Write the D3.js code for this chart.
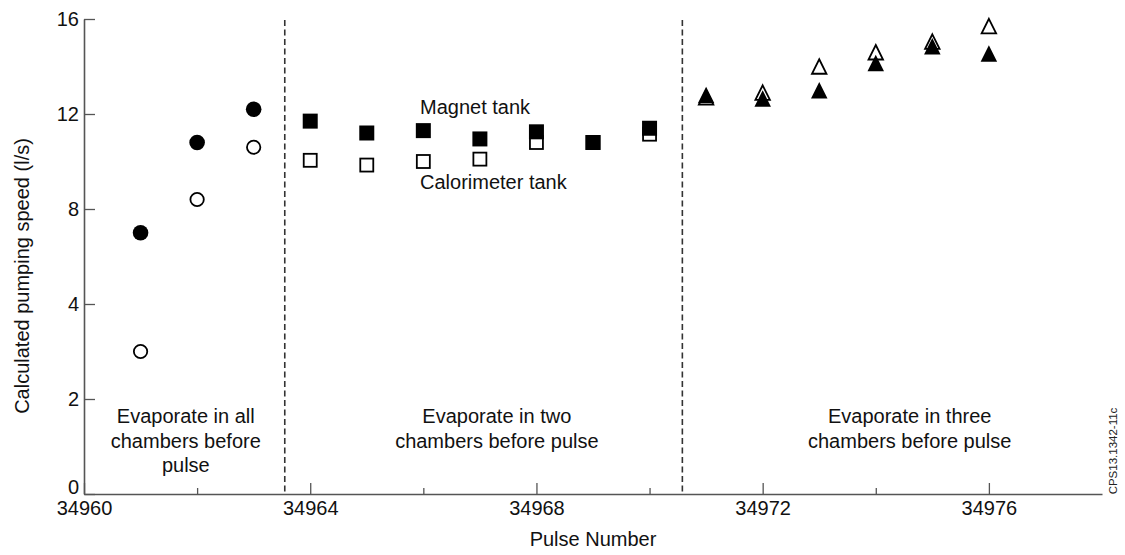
<!DOCTYPE html>
<html><head><meta charset="utf-8">
<script src="https://cdn.jsdelivr.net/npm/d3@7"></script>
<style>
html,body{margin:0;padding:0;background:#fff;}
text{font-family:"Liberation Sans",Arial,Helvetica,sans-serif;}
</style></head>
<body>
<svg id="chart" width="1125" height="555"></svg>
<script>
// ---- data ----
const pulsesAll = [34961, 34962, 34963];
const magnetAll = [7.0, 10.8, 12.2];
const calorAll = [3.0, 8.4, 10.6];

const pulsesTwo = [34964, 34965, 34966, 34967, 34968, 34969, 34970];
const magnetTwo = [11.7, 11.2, 11.3, 10.95, 11.25, 10.8, 11.4];
const calorTwo = [10.05, 9.85, 10.0, 10.1, 10.8, 10.8, 11.15];

const pulsesThree = [34971, 34972, 34973, 34974, 34975, 34976];
const magnetThree = [12.8, 12.65, 13.0, 14.15, 14.85, 14.55];
const calorThree = [12.7, 12.9, 14.0, 14.6, 15.05, 15.7];

const yTickValues = [0, 2, 4, 8, 12, 16];
const xMajorTicks = [34960, 34964, 34968, 34972, 34976];
const xMinorTicks = [34962, 34966, 34970, 34974];
const dividers = [34963.55, 34970.58];

const regionLabels = [
  {x: 34961.8, lines: ["Evaporate in all", "chambers before", "pulse"]},
  {x: 34967.3, lines: ["Evaporate in two", "chambers before pulse"]},
  {x: 34974.6, lines: ["Evaporate in three", "chambers before pulse"]}
];

// ---- layout ----
const svg = d3.select("#chart");
const x = d3.scaleLinear().domain([34960, 34978]).range([84, 1102]);
const y = d3.scaleLinear().domain(yTickValues).range([494, 399, 304, 209, 114, 19]);
const axisColor = "#555";

// y axis
const gy = svg.append("g").attr("transform", `translate(${x.range()[0]},0)`)
  .call(d3.axisLeft(y).tickValues(yTickValues).tickSizeInner(-11).tickSizeOuter(0).tickPadding(6).tickFormat(d3.format("d")));
gy.select(".domain").attr("stroke", axisColor).attr("stroke-width", 1.6);
gy.selectAll(".tick line").attr("stroke", axisColor).attr("stroke-width", 1.3);
gy.selectAll(".tick text").attr("font-size", 20).attr("fill", "#111").attr("x", -5);
gy.selectAll(".tick text").filter(d => d === 0).attr("dy", "-0.05em");

// x axis
const gxMinor = svg.append("g").attr("transform", `translate(0,${y(0)})`)
  .call(d3.axisBottom(x).tickValues(xMinorTicks).tickSizeInner(-6).tickSizeOuter(0).tickFormat(""));
gxMinor.select(".domain").attr("stroke", axisColor).attr("stroke-width", 1.6);
gxMinor.selectAll(".tick line").attr("stroke", axisColor).attr("stroke-width", 1.3);

const gx = svg.append("g").attr("transform", `translate(0,${y(0)})`)
  .call(d3.axisBottom(x).tickValues(xMajorTicks).tickSizeInner(-11).tickSizeOuter(0).tickPadding(6).tickFormat(d3.format("d")));
gx.select(".domain").attr("stroke", "none");
gx.selectAll(".tick line").attr("stroke", axisColor).attr("stroke-width", 1.3);
gx.selectAll(".tick text").attr("font-size", 20).attr("fill", "#111").attr("dy", "0.74em");

// axis titles
svg.append("text").attr("x", 593).attr("y", 546).attr("text-anchor", "middle")
  .attr("font-size", 20).attr("fill", "#111").text("Pulse Number");
svg.append("text").attr("transform", "translate(29,276) rotate(-90)").attr("text-anchor", "middle")
  .attr("font-size", 20).attr("fill", "#111").text("Calculated pumping speed (l/s)");

// code label
svg.append("text").attr("transform", "translate(1117,451) rotate(-90)").attr("text-anchor", "middle")
  .attr("font-size", 11.5).attr("fill", "#222").text("CPS13.1342-11c");

// dividers
svg.selectAll("line.div").data(dividers).join("line").attr("class", "div")
  .attr("x1", d => x(d)).attr("x2", d => x(d)).attr("y1", y(16) + 1).attr("y2", y(0))
  .attr("stroke", "#333").attr("stroke-width", 1.6).attr("stroke-dasharray", "6,3.5");

// region labels
regionLabels.forEach(r => {
  const t = svg.append("text").attr("text-anchor", "middle").attr("font-size", 20).attr("fill", "#111");
  r.lines.forEach((l, i) => t.append("tspan").attr("x", x(r.x)).attr("y", 423 + i * 24.5).text(l));
});

// series labels
svg.append("text").attr("x", 420).attr("y", 114).attr("font-size", 20).attr("fill", "#111").text("Magnet tank");
svg.append("text").attr("x", 420).attr("y", 189).attr("font-size", 20).attr("fill", "#111").text("Calorimeter tank");

// markers
function zip(px, vals) { return px.map((p, i) => ({p, v: vals[i]})); }
const triPath = (w, h) => `M0,${-h/2}L${w/2},${h/2}L${-w/2},${h/2}Z`;

// open markers first
svg.selectAll("circle.open").data(zip(pulsesAll, calorAll)).join("circle").attr("class", "open")
  .attr("cx", d => x(d.p)).attr("cy", d => y(d.v)).attr("r", 6.7)
  .attr("fill", "#fff").attr("stroke", "#000").attr("stroke-width", 1.8);
svg.selectAll("rect.open").data(zip(pulsesTwo, calorTwo)).join("rect").attr("class", "open")
  .attr("x", d => x(d.p) - 6.5).attr("y", d => y(d.v) - 6.5).attr("width", 13).attr("height", 13)
  .attr("fill", "#fff").attr("stroke", "#000").attr("stroke-width", 1.8);
svg.selectAll("path.open").data(zip(pulsesThree, calorThree)).join("path").attr("class", "open")
  .attr("transform", d => `translate(${x(d.p)},${y(d.v)})`).attr("d", triPath(14.5, 14.5))
  .attr("fill", "#fff").attr("stroke", "#000").attr("stroke-width", 1.8).attr("stroke-linejoin", "miter");

// filled markers
svg.selectAll("circle.fill").data(zip(pulsesAll, magnetAll)).join("circle").attr("class", "fill")
  .attr("cx", d => x(d.p)).attr("cy", d => y(d.v)).attr("r", 7.8).attr("fill", "#000");
svg.selectAll("rect.fill").data(zip(pulsesTwo, magnetTwo)).join("rect").attr("class", "fill")
  .attr("x", d => x(d.p) - 7.5).attr("y", d => y(d.v) - 7.5).attr("width", 15).attr("height", 15).attr("fill", "#000");
svg.selectAll("path.fill").data(zip(pulsesThree, magnetThree)).join("path").attr("class", "fill")
  .attr("transform", d => `translate(${x(d.p)},${y(d.v)})`).attr("d", triPath(16.5, 16.5)).attr("fill", "#000");
</script>
</body></html>
